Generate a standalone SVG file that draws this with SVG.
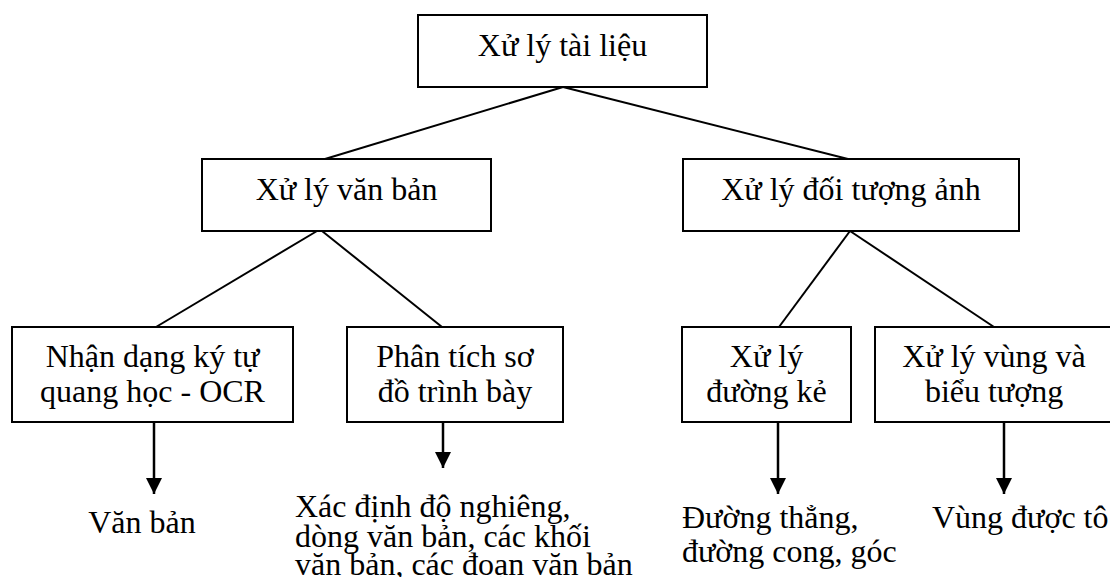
<svg xmlns="http://www.w3.org/2000/svg" width="1110" height="577" viewBox="0 0 1110 577">
<defs>
<style>
.box{fill:#fff;stroke:#000;stroke-width:2}
.t{font-family:"Liberation Serif","Times New Roman",serif;font-size:32px;fill:#000}
.c{text-anchor:middle}
.ln{stroke:#000;stroke-width:2;fill:none}
.ar{stroke:#000;stroke-width:2.5;fill:none}
</style>
<marker id="ah" markerUnits="userSpaceOnUse" markerWidth="16" markerHeight="16" refX="15" refY="7.5" orient="auto" viewBox="0 0 15 15">
<path d="M0,0 L15,7.5 L0,15 z" fill="#000"/>
</marker>
</defs>
<rect width="1110" height="577" fill="#fff"/>
<g id="connectors">
<line class="ln" x1="563" y1="87" x2="325" y2="159"/>
<line class="ln" x1="563" y1="87" x2="848" y2="159"/>
<line class="ln" x1="317" y1="231" x2="156" y2="327"/>
<line class="ln" x1="322" y1="231" x2="442" y2="327"/>
<line class="ln" x1="850" y1="231" x2="779" y2="327"/>
<line class="ln" x1="850" y1="231" x2="994" y2="327"/>
<line class="ar" x1="154" y1="422" x2="154" y2="494" marker-end="url(#ah)"/>
<line class="ar" x1="443" y1="422" x2="443" y2="468" marker-end="url(#ah)"/>
<line class="ar" x1="778" y1="422" x2="778" y2="494" marker-end="url(#ah)"/>
<line class="ar" x1="1004" y1="422" x2="1004" y2="494" marker-end="url(#ah)"/>
</g>
<g id="n-root">
<rect class="box" x="418" y="15" width="289" height="72"/>
<text class="t c" x="562.5" y="56">Xử lý tài liệu</text>
</g>
<g id="n-vanban">
<rect class="box" x="202" y="159" width="289" height="72"/>
<text class="t c" x="346.5" y="200">Xử lý văn bản</text>
</g>
<g id="n-doituong">
<rect class="box" x="683" y="159" width="336" height="72"/>
<text class="t c" x="851" y="200">Xử lý đối tượng ảnh</text>
</g>
<g id="n-ocr">
<rect class="box" x="12" y="327" width="281" height="95"/>
<text class="t c" x="152.5" y="367">Nhận dạng ký tự</text>
<text class="t c" x="152.5" y="402">quang học - OCR</text>
</g>
<g id="n-phantich">
<rect class="box" x="347" y="327" width="216" height="95"/>
<text class="t c" x="455" y="367">Phân tích sơ</text>
<text class="t c" x="455" y="402">đồ trình bày</text>
</g>
<g id="n-duongke">
<rect class="box" x="682" y="327" width="169" height="95"/>
<text class="t c" x="766.5" y="367">Xử lý</text>
<text class="t c" x="766.5" y="402">đường kẻ</text>
</g>
<g id="n-vung">
<rect class="box" x="875" y="327" width="240" height="95"/>
<text class="t c" x="994" y="367">Xử lý vùng và</text>
<text class="t c" x="994" y="402">biểu tượng</text>
</g>
<g id="r-vanban">
<text class="t c" x="142" y="533">Văn bản</text>
</g>
<g id="r-xacdinh">
<text class="t" x="295" y="517">Xác định độ nghiêng,</text>
<text class="t" x="295" y="547">dòng văn bản, các khối</text>
<text class="t" x="295" y="575">văn bản, các đoạn văn bản</text>
</g>
<g id="r-duong">
<text class="t" x="682" y="528">Đường thẳng,</text>
<text class="t" x="682" y="562">đường cong, góc</text>
</g>
<g id="r-vung">
<text class="t" x="932" y="528">Vùng được tô</text>
</g>
</svg>
